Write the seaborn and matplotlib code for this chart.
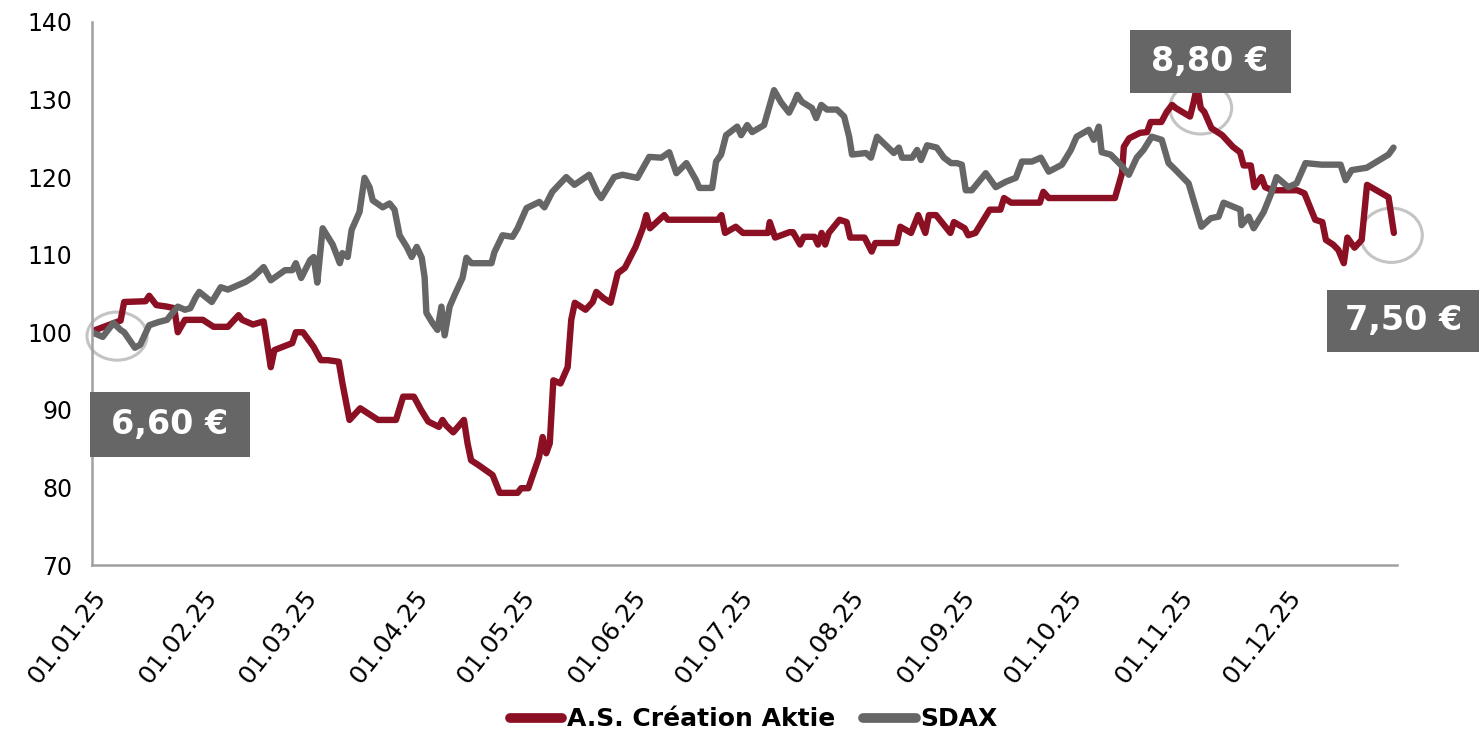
import matplotlib
matplotlib.use("Agg")
import matplotlib.pyplot as plt
import matplotlib.dates as mdates
from matplotlib.patches import Ellipse, Rectangle
import seaborn as sns
import pandas as pd

START = pd.Timestamp("2025-01-01")

# A.S. Création Aktie, indexiert (01.01.25 = 100), Tage seit 01.01.25
aktie_tage = [0, 1, 8, 9, 15, 16, 18, 21, 23, 24, 26, 31, 34, 38, 41, 42, 45, 48, 50, 51,
              56, 57, 59, 62, 64, 66, 69, 70, 72, 75, 77, 78, 80, 85, 87, 90, 92, 94, 97, 98,
              99, 101, 104, 105, 106, 108, 112, 114, 119, 120, 122, 125, 126, 127, 128, 129, 131, 133, 134, 135,
              138, 140, 141, 143, 145, 147, 149, 152, 154, 155, 156, 160, 161, 175, 176, 177, 180, 182, 189, 189.5,
              191, 195, 196, 198, 199, 202, 203, 204, 205, 206, 209, 211, 212, 216, 218, 219, 225, 226, 229, 231,
              233, 234, 236, 240, 241, 244, 245, 247, 251, 254, 255, 257, 265, 266, 267.5, 286, 288, 288.5, 290, 293,
              295, 296, 299, 300.5, 302, 303, 307, 308, 309, 310, 311, 313, 316, 319, 321, 322, 324, 325, 327, 328,
              330, 337, 339, 342, 344, 345, 347, 348.5, 350, 351, 353, 355, 356.5, 362.5, 364]
aktie_werte = [100, 100.3, 101.5, 103.9, 104, 104.7, 103.5, 103.3, 103.1, 100, 101.6, 101.6, 100.7, 100.7, 102.2, 101.6, 101, 101.4, 95.5, 97.7,
               98.6, 100, 100, 98.1, 96.4, 96.4, 96.2, 93.5, 88.7, 90.2, 89.6, 89.3, 88.7, 88.7, 91.7, 91.7, 90, 88.5, 87.8, 88.7,
               88, 87.1, 88.7, 85.7, 83.5, 82.9, 81.6, 79.3, 79.3, 79.9, 79.9, 83.9, 86.5, 84.4, 85.7, 93.8, 93.4, 95.5, 101.6, 103.8,
               102.9, 103.9, 105.2, 104.4, 103.8, 107.6, 108.3, 111, 113.4, 115.1, 113.4, 115.1, 114.5, 114.5, 115.1, 112.8, 113.6, 112.8, 112.8, 114.2,
               112.2, 112.9, 112.9, 111.3, 112.3, 112.3, 111.3, 112.8, 111.3, 112.8, 114.5, 114.2, 112.2, 112.2, 110.4, 111.5, 111.5, 113.6, 112.8, 115.1,
               112.8, 115.1, 115.1, 112.8, 114.2, 113.4, 112.5, 112.8, 115.8, 115.8, 117.3, 116.7, 116.7, 118.1, 117.3, 117.3, 120.5, 123.9, 125, 125.7,
               125.8, 127.1, 127.1, 128.4, 129.3, 128.9, 127.8, 129.6, 131.8, 128.9, 128.4, 126.3, 125.4, 123.9, 123.2, 121.5, 121.5, 118.7, 120, 118.7,
               118.3, 118.3, 117.9, 114.5, 114.2, 111.9, 111.3, 110.6, 108.9, 112.2, 110.9, 111.9, 119, 117.4, 112.8]

# SDAX, indexiert (01.01.25 = 100)
sdax_tage = [0, 1, 3, 6, 8, 9, 12, 13.5, 16, 18.5, 21, 22, 24, 26, 27.5, 29, 30, 33.5, 36, 38,
             41, 43, 45, 48, 50, 54, 56, 57, 58.5, 61, 62, 63, 64.5, 67.3, 69.3, 70, 71.5, 72.6, 74.8, 76.2,
             77.6, 78.5, 81.3, 83.2, 84.6, 86, 88, 89.4, 90.8, 92.2, 93, 93.5, 95.2, 96.6, 97.7, 98.6, 100, 101.4, 103.6, 104.7,
             106.1, 111.7, 112.5, 114.8, 117.6, 119, 121.5, 125.1, 126.5, 128.7, 132.6, 134.9, 139, 141.3, 142.4, 146, 148.3, 152.5, 155.8, 159.2,
             161.4, 163.4, 166.2, 168.9, 169.8, 173.4, 174.5, 175.9, 177.3, 180.4, 181.5, 183.2, 184.6, 187.9, 190.7, 192.7, 194.9, 196.3, 197.2, 198.5,
             201.3, 202.5, 203.9, 205.5, 208.3, 210.3, 211.7, 212.5, 216.4, 217.8, 219.5, 224.2, 225.6, 226.5, 229.3, 230.7, 231.8, 233.5, 236.2, 238.2,
             240.2, 241.8, 243.2, 244.3, 246, 249.9, 252.7, 255.5, 258.3, 260, 262.8, 265.3, 267.5, 271.2, 273.7, 275.3, 278.7, 280.1, 281.5, 282.3,
             284.8, 287.6, 289.9, 292.1, 294, 296.3, 299.1, 301, 303, 306.6, 308.6, 310.2, 312.8, 315, 316.4, 321.1, 321.4, 323.4, 324.8, 327.6,
             329.8, 331.2, 334.5, 336.8, 339.3, 343.8, 349.1, 350.5, 352.2, 356.4, 362.5, 363.9]
sdax_werte = [100, 99.8, 99.4, 101.2, 100.3, 100, 98, 98.4, 100.9, 101.3, 101.6, 102.2, 103.3, 102.9, 103.1, 104.5, 105.2, 103.9, 105.8, 105.5,
              106.1, 106.5, 107.1, 108.4, 106.7, 108, 108, 108.9, 107, 109.3, 109.7, 106.4, 113.4, 111.3, 108.9, 110.2, 109.7, 113.2, 115.5, 119.9,
              118.7, 117, 116.1, 116.6, 115.8, 112.5, 111, 109.7, 111, 109.6, 107.1, 102.5, 101.2, 100.3, 103.3, 99.6, 103.3, 104.8, 107, 109.6,
              108.9, 108.9, 110.3, 112.5, 112.3, 113.4, 116, 116.8, 116.1, 118.1, 120, 119, 120.3, 118, 117.3, 120, 120.3, 119.9, 122.6, 122.5,
              123.2, 120.5, 121.8, 119.6, 118.6, 118.6, 122, 122.9, 125.4, 126.5, 125.4, 126.7, 125.8, 126.7, 131.2, 129.6, 128.3, 129.6, 130.6, 129.7,
              128.9, 127.6, 129.3, 128.7, 128.7, 127.8, 125.2, 122.9, 123.1, 122.5, 125.2, 123.1, 123.8, 122.5, 122.5, 123.5, 122.2, 124.1, 123.8, 122.5,
              121.8, 121.8, 121.6, 118.3, 118.3, 120.5, 118.7, 119.4, 119.9, 122, 122, 122.5, 120.7, 121.6, 123.5, 125.2, 126.1, 124.8, 126.5, 123.2,
              122.9, 121.6, 120.3, 122.5, 123.5, 125.2, 124.8, 121.8, 120.9, 119.2, 116.1, 113.6, 114.7, 114.9, 116.7, 115.8, 113.8, 114.9, 113.4, 115.5,
              118, 120, 118.7, 119.2, 121.8, 121.6, 121.6, 119.6, 120.9, 121.2, 122.9, 123.8]

reihen = ["A.S. Création Aktie", "SDAX"]
farben = ["#8B1023", "#666666"]

# Kursmarken: Text, Box (Tag von/bis, Wert von/bis)
kurs_texte = ["6,60 €", "8,80 €", "7,50 €"]
kurs_boxen = [(-0.5, 44.1, 83.9, 92.3), (290.1, 335.1, 130.9, 139.0), (345.4, 387.9, 97.5, 105.5)]
# Kreise: Mitte (Tag, Wert), Breite in Tagen, Höhe in Indexpunkten
kreise = [(7.0, 99.5, 16.8, 6.2), (310.0, 128.9, 17.3, 6.7), (363.3, 112.5, 17.3, 7.0)]


def tage_zu_datum(tage):
    return START + pd.to_timedelta(tage, unit="D")


df = pd.concat([
    pd.DataFrame({"Datum": tage_zu_datum(aktie_tage), "Index": aktie_werte, "Reihe": reihen[0]}),
    pd.DataFrame({"Datum": tage_zu_datum(sdax_tage), "Index": sdax_werte, "Reihe": reihen[1]}),
])

sns.set_style("white")
plt.rcParams["font.family"] = ["DejaVu Sans"]

fig = plt.figure(figsize=(14.81, 7.45), dpi=100)
ax = fig.add_axes([0.0621, 0.2416, 0.881, 0.729])

# Kreise unter den Linien
for tag, wert, breite, hoehe in kreise:
    mitte = mdates.date2num(tage_zu_datum(tag))
    ax.add_patch(Ellipse((mitte, wert), breite, hoehe, fill=False, edgecolor="#C4C4C4",
                         linewidth=2.2, zorder=1, clip_on=False))

sns.lineplot(ax=ax, data=df, x="Datum", y="Index", hue="Reihe", hue_order=reihen,
             palette=farben, estimator=None, sort=False, linewidth=4.6, legend=False, zorder=2)
for line in ax.get_lines():
    line.set_solid_joinstyle("round")
    line.set_solid_capstyle("round")

# Kursboxen
for text, (x0, x1, y0, y1) in zip(kurs_texte, kurs_boxen):
    d0 = mdates.date2num(tage_zu_datum(x0))
    d1 = mdates.date2num(tage_zu_datum(x1))
    ax.add_patch(Rectangle((d0, y0), d1 - d0, y1 - y0, facecolor="#666666", edgecolor="none",
                           zorder=5, clip_on=False))
    ax.text((d0 + d1) / 2, (y0 + y1) / 2, text, color="white", fontsize=24, fontweight="bold",
            ha="center", va="center", zorder=6, clip_on=False)

ax.set_ylim(70, 140)
ax.set_yticks(range(70, 141, 10))
ax.set_xlim(mdates.date2num(START), mdates.date2num(tage_zu_datum(364.8)))
monate = pd.date_range("2025-01-01", "2025-12-01", freq="MS")
ax.set_xticks(mdates.date2num(monate))
ax.set_xticklabels([m.strftime("%d.%m.%y") for m in monate], rotation=52, ha="right",
                   rotation_mode="anchor", fontsize=18)
ax.tick_params(axis="y", labelsize=17, length=10, width=1.5, color="#A0A0A0", pad=4, labelcolor="black")
ax.tick_params(axis="x", length=10, width=1.5, color="#A0A0A0", pad=5, labelcolor="black")
ax.set_xlabel("")
ax.set_ylabel("")
for side in ["top", "right"]:
    ax.spines[side].set_visible(False)
for side in ["left", "bottom"]:
    ax.spines[side].set_color("#A0A0A0")
    ax.spines[side].set_linewidth(1.8)

handles = [plt.Line2D([], [], color=f, linewidth=7, solid_capstyle="round") for f in farben]
leg = fig.legend(handles, reihen, loc="lower center", bbox_to_anchor=(0.509, -0.012), ncol=2, frameon=False,
                 prop={"weight": "bold", "size": 18}, handlelength=2.1, handletextpad=0.2, columnspacing=1.1)
for t in leg.get_texts():
    t.set_color("black")

fig.savefig("out.png", dpi=100)
